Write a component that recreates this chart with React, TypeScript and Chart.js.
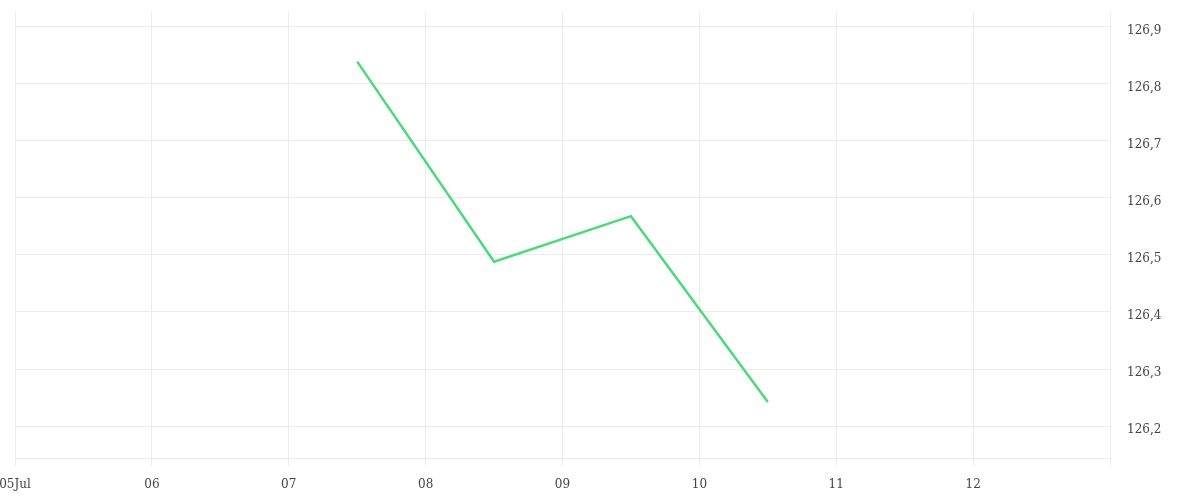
import { useEffect, useRef } from "react";
import { Chart, registerables } from "chart.js";

Chart.register(...registerables);

// Day of July (12:00 = .5) and the closing price for that day
const days = [7.5, 8.5, 9.5, 10.5];
const prices = [126.839, 126.488, 126.568, 126.242];

// X axis: 05 Jul .. 13 Jul, only 05..12 are labelled
const xMin = 5;
const xMax = 13;
const yMin = 126.144;
const yMax = 126.926;
const yTicks = [126.2, 126.3, 126.4, 126.5, 126.6, 126.7, 126.8, 126.9];

const gridColor = "#ececec";
const lineColor = "#4cd97b";
const textColor = "#444";
const labelFont = { family: "'DejaVu Serif', serif", size: 12 };

export default function App() {
  const canvasRef = useRef<HTMLCanvasElement>(null);

  useEffect(() => {
    document.body.style.margin = "0";
    const canvas = canvasRef.current;
    if (!canvas) return;

    const chart = new Chart(canvas, {
      type: "line",
      data: {
        datasets: [
          {
            data: days.map((d, i) => ({ x: d, y: prices[i] })),
            borderColor: lineColor,
            borderWidth: 2.5,
            pointRadius: 0,
            tension: 0,
            fill: false,
          },
        ],
      },
      options: {
        animation: false,
        responsive: true,
        maintainAspectRatio: false,
        layout: { padding: 0 },
        plugins: {
          legend: { display: false },
          tooltip: { enabled: false },
        },
        scales: {
          x: {
            type: "linear",
            min: xMin,
            max: xMax,
            ticks: {
              stepSize: 1,
              padding: 12,
              color: textColor,
              font: labelFont,
              maxRotation: 0,
              callback: (v) => {
                const n = Number(v);
                if (n >= xMax) return "";
                const dd = String(n).padStart(2, "0");
                return n === xMin ? dd + "Jul" : dd;
              },
            },
            grid: { color: gridColor, tickLength: 8 },
            border: { color: gridColor },
            afterFit: (scale) => {
              scale.height = 42;
              scale.paddingLeft = 15;
              scale.paddingRight = 0;
            },
          },
          y: {
            type: "linear",
            position: "right",
            min: yMin,
            max: yMax,
            afterBuildTicks: (scale) => {
              scale.ticks = yTicks.map((v) => ({ value: v }));
            },
            ticks: {
              padding: 17,
              labelOffset: 4,
              color: textColor,
              font: labelFont,
              callback: (v) => Number(v).toFixed(1).replace(".", ","),
            },
            grid: { color: gridColor, drawTicks: false },
            border: { color: gridColor },
            afterFit: (scale) => {
              scale.width = 90;
              scale.paddingTop = 12;
              scale.paddingBottom = 0;
            },
          },
        },
      },
    });

    return () => chart.destroy();
  }, []);

  return (
    <div style={{ width: 1200, height: 500, position: "relative" }}>
      <canvas ref={canvasRef}></canvas>
    </div>
  );
}
